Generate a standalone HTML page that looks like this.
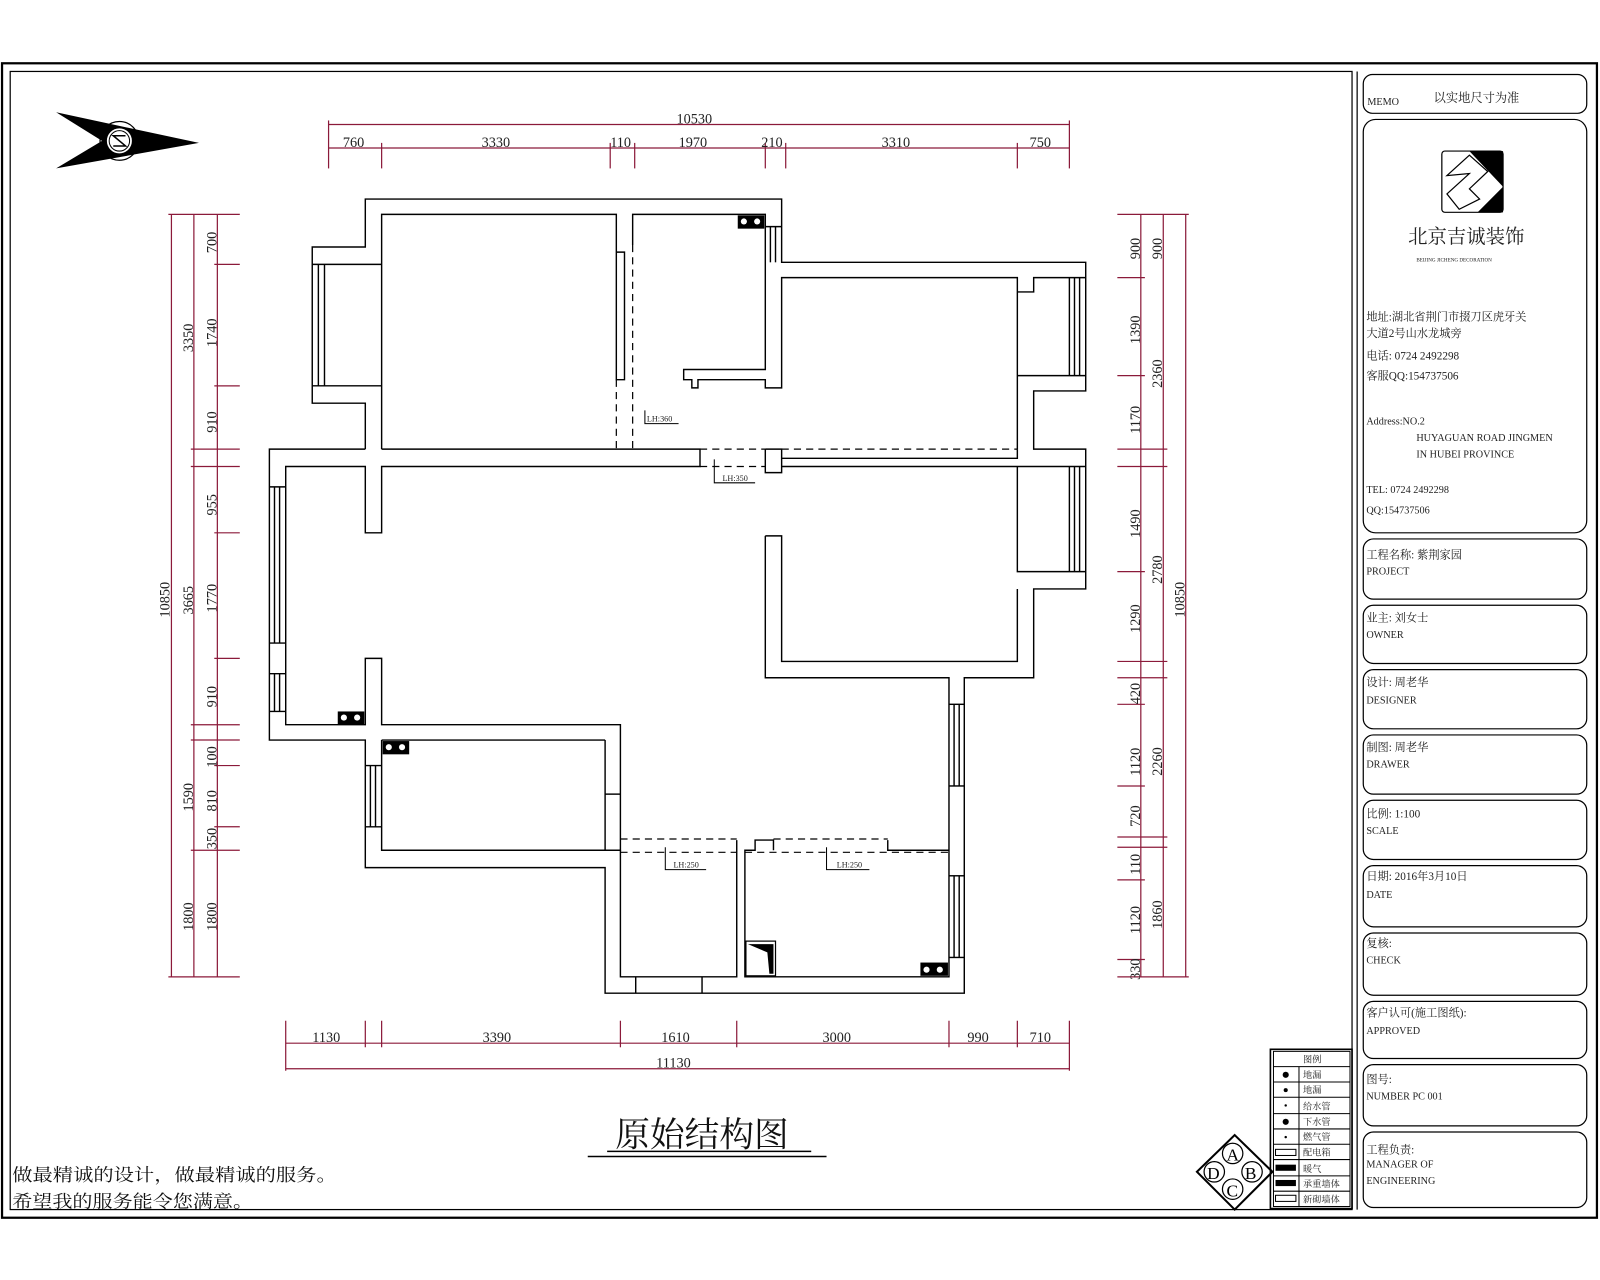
<!DOCTYPE html>
<html><head><meta charset="utf-8"><style>
html,body{margin:0;padding:0;background:#fff;}
svg{display:block}
text{font-family:"Liberation Serif","Noto Serif CJK SC","Noto Sans CJK SC",serif;}
.d{fill:#222;font-size:14px}
.s{font-family:"Liberation Sans","Noto Sans CJK SC",sans-serif;font-size:11px;fill:#222}
</style></head><body>
<svg width="1600" height="1280" viewBox="0 0 1568 1254" preserveAspectRatio="none" xmlns="http://www.w3.org/2000/svg">
<rect x="0" y="0" width="1568" height="1254" fill="#fff"/>
<rect x="2" y="62" width="1563" height="1131" fill="none" stroke="#000" stroke-width="2.2"/>
<rect x="10" y="70" width="1315" height="1115" fill="none" stroke="#000" stroke-width="1.2"/>
<line x1="1330" y1="70" x2="1330" y2="1185" stroke="#000" stroke-width="1.2"/>

<g fill="none" stroke="#000" stroke-width="1.2">
<rect x="1336" y="73" width="219" height="38" rx="9"/>
<rect x="1336" y="117" width="219" height="405" rx="12"/>
<rect x="1336" y="528" width="219" height="59" rx="10"/>
<rect x="1336" y="593" width="219" height="57" rx="10"/>
<rect x="1336" y="656" width="219" height="58" rx="10"/>
<rect x="1336" y="720" width="219" height="58" rx="10"/>
<rect x="1336" y="784" width="219" height="58" rx="10"/>
<rect x="1336" y="848" width="219" height="60" rx="10"/>
<rect x="1336" y="914" width="219" height="61" rx="10"/>
<rect x="1336" y="981" width="219" height="56" rx="10"/>
<rect x="1336" y="1043" width="219" height="60" rx="10"/>
<rect x="1336" y="1109" width="219" height="74" rx="10"/>
</g>
<g class="s">
<text x="1340" y="103" font-size="10">MEMO</text>
<text x="1405" y="100" font-size="12">以实地尺寸为准</text>
<text x="1380" y="238" font-size="19">北京吉诚装饰</text>
<text x="1388" y="256" font-size="5">BEIJING JICHENG DECORATION</text>
<text x="1339" y="314" font-size="11">地址:湖北省荆门市掇刀区虎牙关</text>
<text x="1339" y="330" font-size="11">大道2号山水龙城旁</text>
<text x="1339" y="352" font-size="11">电话: 0724 2492298</text>
<text x="1339" y="372" font-size="11">客服QQ:154737506</text>
<text x="1339" y="416" font-size="10">Address:NO.2</text>
<text x="1388" y="432" font-size="10">HUYAGUAN ROAD JINGMEN</text>
<text x="1388" y="448" font-size="10">IN HUBEI PROVINCE</text>
<text x="1339" y="483" font-size="10">TEL: 0724 2492298</text>
<text x="1339" y="503" font-size="10">QQ:154737506</text>
<text x="1339" y="547">工程名称:    紫荆家园</text><text x="1339" y="563" font-size="10">PROJECT</text>
<text x="1339" y="609">业主:       刘女士</text><text x="1339" y="625" font-size="10">OWNER</text>
<text x="1339" y="672">设计:     周老华</text><text x="1339" y="689" font-size="10">DESIGNER</text>
<text x="1339" y="736">制图:     周老华</text><text x="1339" y="752" font-size="10">DRAWER</text>
<text x="1339" y="801">比例:   1:100</text><text x="1339" y="817" font-size="10">SCALE</text>
<text x="1339" y="862">日期:   2016年3月10日</text><text x="1339" y="880" font-size="10">DATE</text>
<text x="1339" y="928">复核:</text><text x="1339" y="944" font-size="10">CHECK</text>
<text x="1339" y="996">客户认可(施工图纸):</text><text x="1339" y="1013" font-size="10">APPROVED</text>
<text x="1339" y="1061">图号:</text><text x="1339" y="1077" font-size="10">NUMBER      PC  001</text>
<text x="1339" y="1130">工程负责:</text><text x="1339" y="1144" font-size="10">MANAGER OF</text><text x="1339" y="1160" font-size="10">ENGINEERING</text>
</g>
<g>
<rect x="1413" y="148" width="60" height="60" fill="#fff" stroke="#000" stroke-width="1.2" rx="3"/>
<path d="M1440 148 L1473 148 L1473 208 L1448 208 L1473 183 Z" fill="#000"/>
<path d="M1418 172 L1440 152 L1458 168 L1440 185 L1450 195 L1430 205 L1418 190 L1440 170 Z" fill="none" stroke="#000" stroke-width="1.2"/>
</g>

<g>
<polygon points="55,110 195,140 55,165 100,138" fill="#000"/>
<circle cx="117" cy="138" r="19" fill="none" stroke="#000" stroke-width="1.2"/>
<circle cx="117" cy="138" r="13" fill="#fff" stroke="#000" stroke-width="1.5"/>
<circle cx="117" cy="138" r="10" fill="none" stroke="#000" stroke-width="1"/>
<path d="M123 133 L111 133 L123 143 L111 143" fill="none" stroke="#000" stroke-width="1.5"/>
</g>

<g stroke="#8b1a3a" stroke-width="1.2" fill="none">
<line x1="322" y1="122" x2="1048" y2="122"/>
<line x1="322" y1="145" x2="1048" y2="145"/>
<line x1="322" y1="118" x2="322" y2="165"/><line x1="374" y1="140" x2="374" y2="165"/>
<line x1="598" y1="140" x2="598" y2="165"/><line x1="622" y1="140" x2="622" y2="165"/>
<line x1="750" y1="140" x2="750" y2="165"/><line x1="770" y1="140" x2="770" y2="165"/>
<line x1="997" y1="140" x2="997" y2="165"/><line x1="1048" y1="118" x2="1048" y2="165"/>

<line x1="168" y1="210" x2="168" y2="957"/>
<line x1="190" y1="210" x2="190" y2="957"/>
<line x1="213" y1="210" x2="213" y2="957"/>
<g>
<line x1="165" y1="210" x2="235" y2="210"/><line x1="210" y1="259" x2="235" y2="259"/>
<line x1="210" y1="378" x2="235" y2="378"/><line x1="187" y1="440" x2="235" y2="440"/>
<line x1="187" y1="457" x2="235" y2="457"/><line x1="210" y1="522" x2="235" y2="522"/>
<line x1="210" y1="645" x2="235" y2="645"/><line x1="187" y1="710" x2="235" y2="710"/>
<line x1="187" y1="725" x2="235" y2="725"/><line x1="210" y1="750" x2="235" y2="750"/>
<line x1="210" y1="810" x2="235" y2="810"/><line x1="187" y1="833" x2="235" y2="833"/>
<line x1="165" y1="957" x2="235" y2="957"/>
</g>
<line x1="1118" y1="210" x2="1118" y2="957"/>
<line x1="1140" y1="210" x2="1140" y2="957"/>
<line x1="1162" y1="210" x2="1162" y2="957"/>
<g>
<line x1="1095" y1="210" x2="1165" y2="210"/><line x1="1095" y1="272" x2="1122" y2="272"/>
<line x1="1095" y1="368" x2="1122" y2="368"/><line x1="1095" y1="440" x2="1144" y2="440"/>
<line x1="1095" y1="457" x2="1144" y2="457"/><line x1="1095" y1="560" x2="1122" y2="560"/>
<line x1="1095" y1="648" x2="1144" y2="648"/><line x1="1095" y1="664" x2="1144" y2="664"/>
<line x1="1095" y1="690" x2="1122" y2="690"/><line x1="1095" y1="770" x2="1122" y2="770"/>
<line x1="1095" y1="820" x2="1144" y2="820"/><line x1="1095" y1="830" x2="1144" y2="830"/>
<line x1="1095" y1="862" x2="1122" y2="862"/><line x1="1095" y1="940" x2="1122" y2="940"/>
<line x1="1095" y1="957" x2="1165" y2="957"/>
</g>
<line x1="280" y1="1022" x2="1048" y2="1022"/>
<line x1="280" y1="1047" x2="1048" y2="1047"/>
<line x1="280" y1="1000" x2="280" y2="1049"/><line x1="358" y1="1000" x2="358" y2="1026"/>
<line x1="374" y1="1000" x2="374" y2="1026"/><line x1="608" y1="1000" x2="608" y2="1026"/>
<line x1="722" y1="1000" x2="722" y2="1026"/><line x1="930" y1="1000" x2="930" y2="1026"/>
<line x1="997" y1="1000" x2="997" y2="1026"/><line x1="1048" y1="1000" x2="1048" y2="1049"/>
</g>
<g class="d">
<text x="663" y="121">10530</text>
<text x="336" y="144">760</text><text x="472" y="144">3330</text><text x="598" y="144">110</text>
<text x="665" y="144">1970</text><text x="746" y="144">210</text><text x="864" y="144">3310</text><text x="1009" y="144">750</text>
<text x="306" y="1021">1130</text><text x="473" y="1021">3390</text><text x="648" y="1021">1610</text>
<text x="806" y="1021">3000</text><text x="948" y="1021">990</text><text x="1009" y="1021">710</text>
<text x="643" y="1046">11130</text>
</g>
<g class="d">
<text transform="translate(166,605) rotate(-90)">10850</text>
<text transform="translate(189,345) rotate(-90)">3350</text>
<text transform="translate(189,602) rotate(-90)">3665</text>
<text transform="translate(189,795) rotate(-90)">1590</text>
<text transform="translate(189,912) rotate(-90)">1800</text>
<text transform="translate(212,248) rotate(-90)">700</text>
<text transform="translate(212,340) rotate(-90)">1740</text>
<text transform="translate(212,424) rotate(-90)">910</text>
<text transform="translate(212,505) rotate(-90)">955</text>
<text transform="translate(212,600) rotate(-90)">1770</text>
<text transform="translate(212,693) rotate(-90)">910</text>
<text transform="translate(212,752) rotate(-90)">100</text>
<text transform="translate(212,795) rotate(-90)">810</text>
<text transform="translate(212,832) rotate(-90)">350</text>
<text transform="translate(212,912) rotate(-90)">1800</text>
<text transform="translate(1117,254) rotate(-90)">900</text>
<text transform="translate(1117,337) rotate(-90)">1390</text>
<text transform="translate(1117,425) rotate(-90)">1170</text>
<text transform="translate(1117,527) rotate(-90)">1490</text>
<text transform="translate(1117,620) rotate(-90)">1290</text>
<text transform="translate(1117,690) rotate(-90)">420</text>
<text transform="translate(1117,760) rotate(-90)">1120</text>
<text transform="translate(1117,810) rotate(-90)">720</text>
<text transform="translate(1117,857) rotate(-90)">110</text>
<text transform="translate(1117,915) rotate(-90)">1120</text>
<text transform="translate(1117,960) rotate(-90)">330</text>
<text transform="translate(1139,254) rotate(-90)">900</text>
<text transform="translate(1139,380) rotate(-90)">2360</text>
<text transform="translate(1139,572) rotate(-90)">2780</text>
<text transform="translate(1139,760) rotate(-90)">2260</text>
<text transform="translate(1139,910) rotate(-90)">1860</text>
<text transform="translate(1161,605) rotate(-90)">10850</text>
</g>

<g fill="none" stroke="#000" stroke-width="1.4">
<polyline points="358,440 358,395 306,395 306,242 358,242 358,195 766,195 766,257 1064,257 1064,383 1013,383 1013,440 1064,440 1064,577 1013,577 1013,664 945,664 945,973 593,973 593,850 358,850 358,725 264,725 264,440 358,440"/>
<line x1="306" y1="259" x2="374" y2="259"/><line x1="306" y1="378" x2="374" y2="378"/>
<line x1="312" y1="259" x2="312" y2="378"/><line x1="318" y1="259" x2="318" y2="378"/>
<polyline points="374,440 374,210 604,210 604,372 612,372 612,247 604,247"/>
<polyline points="620,240 620,210 750,210 750,362 670,362 670,372 678,372 678,380 684,380 684,372 750,372 750,380 766,380 766,272 997,272 997,440"/>
<line x1="750" y1="222" x2="766" y2="222"/><line x1="755" y1="222" x2="755" y2="257"/><line x1="760" y1="222" x2="760" y2="257"/>
<polyline points="997,286 1013,286 1013,272 1064,272"/>
<line x1="997" y1="368" x2="1064" y2="368"/>
<line x1="1048" y1="272" x2="1048" y2="368"/><line x1="1053" y1="272" x2="1053" y2="368"/><line x1="1058" y1="272" x2="1058" y2="368"/>
<polyline points="374,440 686,440 686,457 374,457 374,522 358,522 358,457 280,457 280,710 358,710 358,645 374,645 374,710 608,710 608,833 374,833 374,725"/>
<line x1="374" y1="725" x2="593" y2="725"/><line x1="593" y1="725" x2="593" y2="833"/>
<line x1="593" y1="778" x2="608" y2="778"/>
<polyline points="750,440 766,440 766,463 750,463 750,440"/>
<polyline points="766,449 997,449 997,440"/>
<line x1="766" y1="457" x2="1064" y2="457"/>
<polyline points="997,457 997,560 1064,560"/>
<line x1="1048" y1="457" x2="1048" y2="560"/><line x1="1053" y1="457" x2="1053" y2="560"/><line x1="1058" y1="457" x2="1058" y2="560"/>
<polyline points="750,525 766,525 766,648 997,648 997,577"/>
<polyline points="750,525 750,664 930,664 930,957 730,957 730,833 740,833 740,823 758,823 758,833"/>
<polyline points="608,833 608,957 722,957 722,823"/>
<polyline points="870,823 870,833 930,833"/>
<line x1="623" y1="957" x2="623" y2="973"/><line x1="688" y1="957" x2="688" y2="973"/>
<line x1="264" y1="477" x2="280" y2="477"/><line x1="264" y1="630" x2="280" y2="630"/>
<line x1="269" y1="477" x2="269" y2="630"/><line x1="274" y1="477" x2="274" y2="630"/>
<line x1="264" y1="660" x2="280" y2="660"/><line x1="264" y1="697" x2="280" y2="697"/>
<line x1="269" y1="660" x2="269" y2="697"/><line x1="274" y1="660" x2="274" y2="697"/>
<line x1="358" y1="750" x2="374" y2="750"/><line x1="358" y1="810" x2="374" y2="810"/>
<line x1="363" y1="750" x2="363" y2="810"/><line x1="368" y1="750" x2="368" y2="810"/>
<line x1="930" y1="690" x2="945" y2="690"/><line x1="930" y1="770" x2="945" y2="770"/>
<line x1="935" y1="690" x2="935" y2="770"/><line x1="940" y1="690" x2="940" y2="770"/>
<line x1="930" y1="858" x2="945" y2="858"/><line x1="930" y1="938" x2="945" y2="938"/>
<line x1="935" y1="858" x2="935" y2="938"/><line x1="940" y1="858" x2="940" y2="938"/>
</g>
<g fill="none" stroke="#000" stroke-width="1.2" stroke-dasharray="7,5">
<line x1="620" y1="240" x2="620" y2="440"/>
<line x1="604" y1="372" x2="604" y2="440"/>
<line x1="686" y1="440" x2="750" y2="440"/><line x1="686" y1="457" x2="750" y2="457"/>
<line x1="766" y1="440" x2="997" y2="440"/>
<line x1="608" y1="822" x2="722" y2="822"/><line x1="608" y1="835" x2="722" y2="835"/>
<line x1="758" y1="822" x2="870" y2="822"/><line x1="730" y1="835" x2="930" y2="835"/>
</g>
<g fill="none" stroke="#000" stroke-width="1">
<polyline points="632,402 632,415 665,415"/>
<polyline points="700,450 700,473 740,473"/>
<polyline points="652,830 652,852 692,852"/>
<polyline points="810,830 810,852 852,852"/>
</g>
<g class="s">
<text x="634" y="413" font-size="8">LH:360</text>
<text x="708" y="471" font-size="8">LH:350</text>
<text x="660" y="850" font-size="8">LH:250</text>
<text x="820" y="850" font-size="8">LH:250</text>
</g>
<g>
<rect x="723" y="211" width="26" height="13" fill="#000"/>
<rect x="331" y="697" width="26" height="13" fill="#000"/>
<rect x="375" y="726" width="26" height="13" fill="#000"/>
<rect x="902" y="943" width="27" height="13" fill="#000"/>
<circle cx="729" cy="217" r="3" fill="#fff"/><circle cx="742" cy="217" r="3" fill="#fff"/>
<circle cx="337" cy="703" r="3" fill="#fff"/><circle cx="350" cy="703" r="3" fill="#fff"/>
<circle cx="381" cy="732" r="3" fill="#fff"/><circle cx="394" cy="732" r="3" fill="#fff"/>
<circle cx="908" cy="950" r="3" fill="#fff"/><circle cx="921" cy="950" r="3" fill="#fff"/>
<rect x="731" y="922" width="29" height="34" fill="#fff" stroke="#000" stroke-width="1.2"/>
<path d="M733 925 L758 925 L758 954 L754 954 L752 933 Z" fill="#000"/>
</g>

<text x="603" y="1123" font-size="34" fill="#111">原始结构图</text>
<line x1="595" y1="1128" x2="795" y2="1128" stroke="#000" stroke-width="1.5"/>
<line x1="576" y1="1133" x2="810" y2="1133" stroke="#000" stroke-width="1.5"/>
<text x="12" y="1157" font-size="17" fill="#111" textLength="318" lengthAdjust="spacingAndGlyphs">做最精诚的设计，做最精诚的服务。</text>
<text x="12" y="1183" font-size="17" fill="#111" textLength="236" lengthAdjust="spacingAndGlyphs">希望我的服务能令您满意。</text>

<g fill="none" stroke="#000" stroke-width="1.2">
<polygon points="1210,1112 1247,1148 1210,1185 1173,1148" stroke-width="2"/>
<circle cx="1208" cy="1130" r="10" fill="#fff"/><circle cx="1227" cy="1148" r="10" fill="#fff"/>
<circle cx="1208" cy="1165" r="10" fill="#fff"/><circle cx="1190" cy="1148" r="10" fill="#fff"/>
</g>
<g font-size="17" fill="#000"><text x="1202" y="1137">A</text><text x="1220" y="1155">B</text><text x="1202" y="1172">C</text><text x="1183" y="1155">D</text></g>
<g fill="none" stroke="#000" stroke-width="1">
<rect x="1245" y="1028" width="80" height="156" stroke-width="1.6"/>
<rect x="1248" y="1030" width="75" height="152"/>
<line x1="1248" y1="1045" x2="1323" y2="1045"/><line x1="1248" y1="1060" x2="1323" y2="1060"/>
<line x1="1248" y1="1075" x2="1323" y2="1075"/><line x1="1248" y1="1091" x2="1323" y2="1091"/>
<line x1="1248" y1="1106" x2="1323" y2="1106"/><line x1="1248" y1="1121" x2="1323" y2="1121"/>
<line x1="1248" y1="1136" x2="1323" y2="1136"/><line x1="1248" y1="1152" x2="1323" y2="1152"/>
<line x1="1248" y1="1167" x2="1323" y2="1167"/><line x1="1273" y1="1045" x2="1273" y2="1182"/>
</g>
<g class="s">
<text x="1277" y="1041" font-size="9">图例</text><text x="1277" y="1056" font-size="9">地漏</text>
<text x="1277" y="1071" font-size="9">地漏</text><text x="1277" y="1087" font-size="9">给水管</text>
<text x="1277" y="1102" font-size="9">下水管</text><text x="1277" y="1117" font-size="9">燃气管</text>
<text x="1277" y="1132" font-size="9">配电箱</text><text x="1277" y="1148" font-size="9">暖气</text>
<text x="1277" y="1163" font-size="9">承重墙体</text><text x="1277" y="1178" font-size="9">新砌墙体</text>
</g>
<g fill="#000"><circle cx="1260" cy="1053" r="3"/><circle cx="1260" cy="1068" r="2"/><circle cx="1260" cy="1083" r="1.2"/><circle cx="1260" cy="1099" r="3"/><circle cx="1260" cy="1114" r="1.2"/>
<rect x="1250" y="1126" width="20" height="6" fill="none" stroke="#000"/><rect x="1250" y="1141" width="20" height="6"/><rect x="1250" y="1156" width="20" height="6"/><rect x="1250" y="1171" width="20" height="6" fill="none" stroke="#000"/></g>
</svg>
</body></html>
